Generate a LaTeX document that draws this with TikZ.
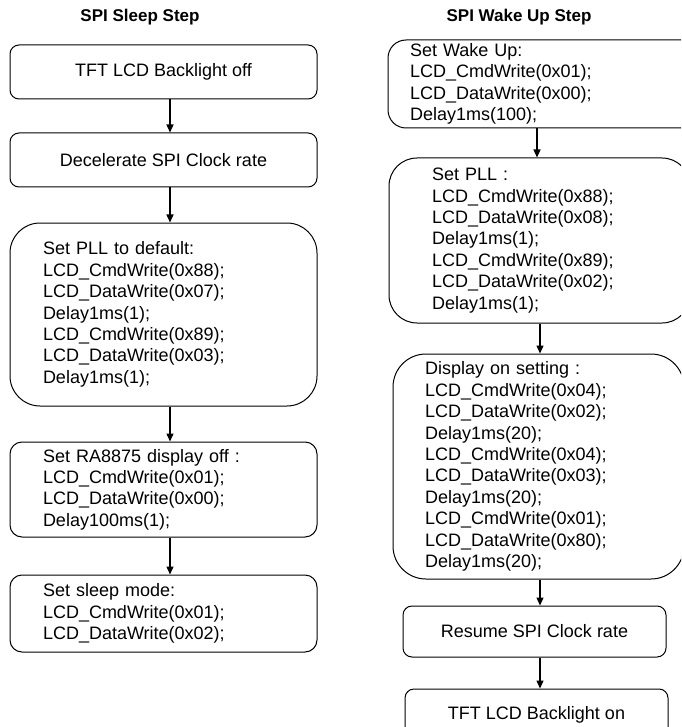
\documentclass[tikz,border=0pt]{standalone}
\usepackage{fontspec}
\setmainfont{Liberation Sans}
\usetikzlibrary{positioning,arrows.meta}

\begin{document}
\begin{tikzpicture}[x=1pt,y=-1pt,>={Triangle[length=8pt,width=7pt]},line width=1pt,
    step node/.style={draw,rounded corners=9pt,inner sep=0pt,align=center,font=\fontsize{18}{21.4}\selectfont},
    code node/.style={step node,align=left,inner xsep=#1},
    title node/.style={font=\fontsize{17}{20}\selectfont\bfseries}]
    \path[use as bounding box,clip] (0,0) rectangle (681,727);

    \node[title node] (t1) at (140,17) {SPI Sleep Step};
    \node[title node] (t2) at (519,17) {SPI Wake Up Step};

    % sleep steps
    \node[step node,minimum width=307pt,minimum height=54pt] (b1) at (163.5,72) {TFT LCD Backlight off};
    \node[step node,minimum width=307pt,minimum height=54pt] (b2) [below=33pt of b1] {Decelerate SPI Clock rate};
    \node[code node=33pt,text width=241pt,minimum height=183pt,rounded corners=30pt] (b3) [below=35pt of b2]
        {Set PLL to default:\\LCD\_CmdWrite(0x88);\\LCD\_DataWrite(0x07);\\Delay1ms(1);\\LCD\_CmdWrite(0x89);\\LCD\_DataWrite(0x03);\\Delay1ms(1);};
    \node[code node=33pt,text width=241pt,minimum height=95pt,rounded corners=12pt] (b4) [below=35pt of b3]
        {Set RA8875 display off :\\LCD\_CmdWrite(0x01);\\LCD\_DataWrite(0x00);\\Delay100ms(1);};
    \node[code node=33pt,text width=241pt,minimum height=77pt,rounded corners=12pt] (b5) [below=37pt of b4]
        {Set sleep mode:\\LCD\_CmdWrite(0x01);\\LCD\_DataWrite(0x02);};

    % wake up steps
    \node[code node=22pt,text width=268pt,minimum height=88pt,rounded corners=18pt] (r1) at (544,84)
        {Set Wake Up:\\LCD\_CmdWrite(0x01);\\LCD\_DataWrite(0x00);\\Delay1ms(100);};
    \node[code node=43pt,text width=215pt,minimum height=165pt,rounded corners=28pt] (r2) [below=29pt of r1,xshift=-4.5pt]
        {Set PLL :\\LCD\_CmdWrite(0x88);\\LCD\_DataWrite(0x08);\\Delay1ms(1);\\LCD\_CmdWrite(0x89);\\LCD\_DataWrite(0x02);\\Delay1ms(1);};
    \node[code node=32pt,text width=227pt,minimum height=225pt,rounded corners=33pt] (r3) [below=30pt of r2,xshift=-1pt]
        {Display on setting :\\LCD\_CmdWrite(0x04);\\LCD\_DataWrite(0x02);\\Delay1ms(20);\\LCD\_CmdWrite(0x04);\\LCD\_DataWrite(0x03);\\Delay1ms(20);\\LCD\_CmdWrite(0x01);\\LCD\_DataWrite(0x80);\\Delay1ms(20);};
    \node[step node,minimum width=263pt,minimum height=51pt] (r4) [below=26pt of r3,xshift=-4pt] {Resume SPI Clock rate};
    \node[step node,minimum width=263pt,minimum height=51pt] (r5) [below=31pt of r4,xshift=2pt] {TFT LCD Backlight on};

    \coordinate (la) at (170,0);
    \coordinate (ra) at (540,0);
    \coordinate (rb) at (537,0);

    \path[->,line width=1.3pt]
        (b1.south -| la) edge (b2.north -| la)
        (b2.south -| la) edge (b3.north -| la)
        (b3.south -| la) edge (b4.north -| la)
        (b4.south -| la) edge (b5.north -| la)
        (r1.south -| rb) edge (r2.north -| rb)
        (r2.south -| ra) edge (r3.north -| ra)
        (r3.south -| ra) edge (r4.north -| ra)
        (r4.south -| ra) edge (r5.north -| ra)
        ;
\end{tikzpicture}
\end{document}
